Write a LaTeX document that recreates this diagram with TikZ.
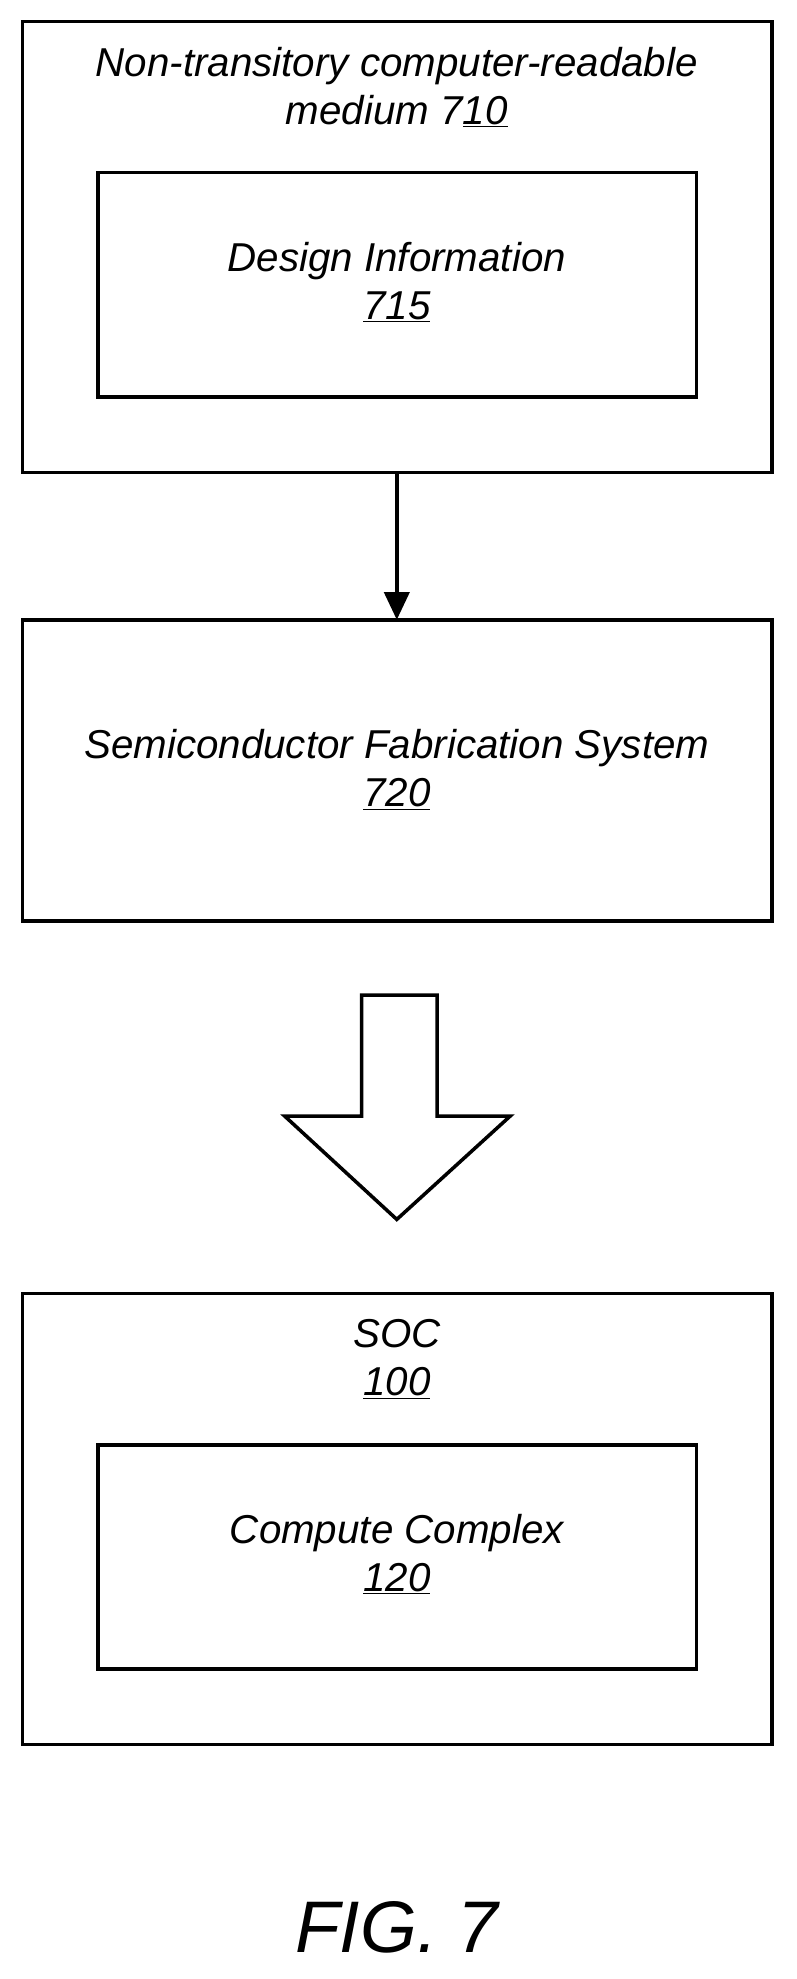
\documentclass[tikz,border=0pt]{standalone}
\usepackage{fontspec}
\setmainfont{Liberation Sans}
\usetikzlibrary{arrows.meta}
\begin{document}
\begin{tikzpicture}[x=1pt,y=-1pt,
  box/.style={draw,line width=2.8pt},
  lbl/.style={font=\fontsize{32}{38}\selectfont\itshape,align=center,inner sep=0pt}]
\useasboundingbox (0,0) rectangle (632,1571);
\draw[box] (18,17) rectangle (613,375);
\node[lbl] (t710) at (315,69) {Non-transitory computer-readable\\medium 7\underline{10}};
\draw[box] (78,137) rectangle (553,315);
\node[lbl] (t715) at (315,224) {Design Information\\\underline{715}};
\coordinate (a1) at (315,375);
\coordinate (a2) at (315,492);
\draw[line width=2.8pt,-{Triangle[length=22pt,width=20pt]}] (a1) -- (a2);
\draw[box] (18,492) rectangle (613,731);
\node[lbl] (t720) at (315,611) {Semiconductor Fabrication System\\\underline{720}};
\draw[box,line join=miter] (287,790) -- (347,790) -- (347,886) -- (405,886) -- (315,968) -- (226,886) -- (287,886) -- cycle;
\draw[box] (18,1027) rectangle (613,1385);
\node[lbl] (t100) at (315,1079) {SOC\\\underline{100}};
\draw[box] (78,1147) rectangle (553,1325);
\node[lbl] (t120) at (315,1234) {Compute Complex\\\underline{120}};
\node[font=\fontsize{58}{64}\selectfont\itshape] (fig) at (315,1530) {FIG. 7};
\end{tikzpicture}
\end{document}
